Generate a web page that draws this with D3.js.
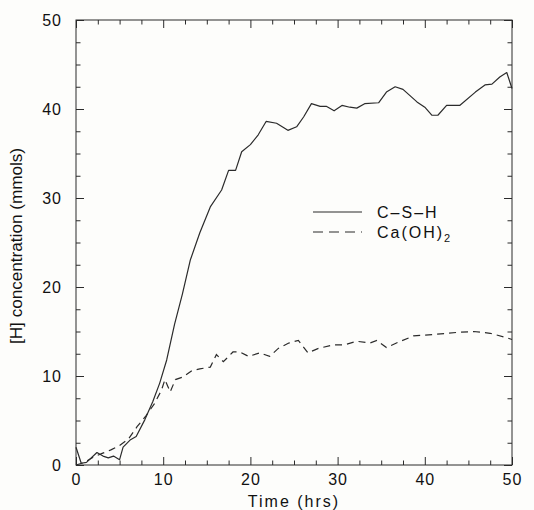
<!DOCTYPE html>
<html>
<head>
<meta charset="utf-8">
<script src="https://cdn.jsdelivr.net/npm/d3@7"></script>
<style>
  html, body { margin: 0; padding: 0; background: #fdfdfb; }
  svg { display: block; }
</style>
</head>
<body>
<div id="chart"></div>
<script>
// hydration data (time in hrs, [H] in mmols)
const cshTime = [0, 0.6, 1.2, 2.4, 3.1, 3.7, 4.3, 5.0, 5.4, 6.2, 6.9, 7.9, 8.8, 9.6, 10.4, 11.3, 12.2, 13.1, 14.2, 15.4,
  16.7, 17.5, 18.3, 19.0, 20.0, 20.9, 21.8, 23.0, 24.3, 25.3, 26.1, 27.0, 28.0, 28.7, 29.6, 30.5, 31.4, 32.2, 33.1,
  34.7, 35.6, 36.6, 37.5, 39.1, 40.0, 40.8, 41.5, 42.5, 44.0, 45.8, 46.9, 47.7, 48.6, 49.4, 50.0];
const cshValue = [2.0, 0.2, 0.3, 1.4, 1.0, 0.8, 1.0, 0.6, 2.0, 2.8, 3.2, 5.1, 7.1, 9.2, 11.8, 15.8, 19.2, 23.0, 26.1, 29.0,
  30.9, 33.1, 33.1, 35.2, 36.0, 37.1, 38.6, 38.4, 37.6, 38.0, 39.1, 40.6, 40.3, 40.3, 39.8, 40.4, 40.2, 40.1, 40.6,
  40.7, 41.9, 42.5, 42.2, 40.8, 40.2, 39.3, 39.3, 40.4, 40.4, 41.9, 42.7, 42.8, 43.6, 44.1, 42.3];

const caohTime = [0, 1.0, 2.0, 3.0, 4.0, 5.0, 6.0, 7.0, 8.0, 9.0, 9.8, 10.2, 10.8, 11.4, 12.3, 13.3, 14.2, 15.4, 16.1,
  16.9, 18.0, 18.8, 19.8, 21.1, 22.2, 23.2, 24.4, 25.5, 26.6, 27.8, 29.5, 30.8, 32.2, 33.7, 34.5, 35.6, 37.2, 38.7,
  41.4, 43.7, 45.6, 47.5, 49.4, 50.0];
const caohValue = [0, 0.3, 0.9, 1.3, 1.7, 2.2, 2.9, 4.3, 5.5, 6.9, 8.4, 9.6, 8.2, 9.6, 9.9, 10.6, 10.8, 11.0, 12.4,
  11.6, 12.7, 12.7, 12.2, 12.6, 12.2, 13.1, 13.7, 14.0, 12.6, 13.1, 13.5, 13.5, 13.9, 13.7, 14.0, 13.2, 13.9, 14.5,
  14.7, 14.9, 15.0, 14.8, 14.3, 14.1];

const seriesNames = ['C\u2013S\u2013H', 'Ca(OH)'];
const xTicks = [0, 10, 20, 30, 40, 50];
const yTicks = [0, 10, 20, 30, 40, 50];
const minorTicks = [2.5, 5, 7.5, 12.5, 15, 17.5, 22.5, 25, 27.5, 32.5, 35, 37.5, 42.5, 45, 47.5];

const attrs = {
  svgWidth: 534,
  svgHeight: 510,
  marginTop: 20,
  marginLeft: 76,
  marginRight: 22,
  marginBottom: 45,
  ink: '#2b2b2b',
  font: '"Liberation Sans", Arial, sans-serif'
};

const chartWidth = attrs.svgWidth - attrs.marginLeft - attrs.marginRight;
const chartHeight = attrs.svgHeight - attrs.marginTop - attrs.marginBottom;

const svg = d3.select('#chart').append('svg')
  .attr('width', attrs.svgWidth)
  .attr('height', attrs.svgHeight);

const chart = svg.append('g')
  .attr('transform', `translate(${attrs.marginLeft},${attrs.marginTop})`);

const xScale = d3.scaleLinear().domain([0, 50]).range([0, chartWidth]);
const yScale = d3.scaleLinear().domain([0, 50]).range([chartHeight, 0]);

// axes: ticks point inward on all four sides
function styleAxis(g) {
  g.select('.domain').remove();
  g.selectAll('.tick line').attr('stroke', attrs.ink).attr('stroke-width', 1);
  g.selectAll('text')
    .attr('fill', '#111')
    .attr('font-family', attrs.font)
    .attr('font-size', 16)
    .attr('letter-spacing', 1);
}

const axes = [
  { make: () => d3.axisBottom(xScale), t: `translate(0,${chartHeight})`, labels: true, isX: true },
  { make: () => d3.axisTop(xScale), t: 'translate(0,0)', labels: false, isX: true },
  { make: () => d3.axisLeft(yScale), t: 'translate(0,0)', labels: true, isX: false },
  { make: () => d3.axisRight(yScale), t: `translate(${chartWidth},0)`, labels: false, isX: false }
];

axes.forEach(a => {
  const major = a.make()
    .tickValues(a.isX ? xTicks : yTicks)
    .tickSize(-8)
    .tickPadding(a.isX ? 9 : 14)
    .tickFormat(a.labels ? d3.format('d') : '');
  const gMajor = chart.append('g').attr('transform', a.t).call(major);
  styleAxis(gMajor);

  const minor = a.make()
    .tickValues(minorTicks)
    .tickSize(-4.5)
    .tickFormat('');
  const gMinor = chart.append('g').attr('transform', a.t).call(minor);
  styleAxis(gMinor);
});

// frame
chart.append('rect')
  .attr('width', chartWidth)
  .attr('height', chartHeight)
  .attr('fill', 'none')
  .attr('stroke', attrs.ink)
  .attr('stroke-width', 1);

// series lines
const cshData = cshTime.map((t, i) => ({ x: t, y: cshValue[i] }));
const caohData = caohTime.map((t, i) => ({ x: t, y: caohValue[i] }));

const line = d3.line().x(d => xScale(d.x)).y(d => yScale(d.y));

chart.append('path')
  .datum(cshData)
  .attr('d', line)
  .attr('fill', 'none')
  .attr('stroke', attrs.ink)
  .attr('stroke-width', 1.2)
  .attr('stroke-linejoin', 'round');

chart.append('path')
  .datum(caohData)
  .attr('d', line)
  .attr('fill', 'none')
  .attr('stroke', attrs.ink)
  .attr('stroke-width', 1.2)
  .attr('stroke-dasharray', '7 5');

// legend
const legend = svg.append('g').attr('transform', 'translate(313,212)');
const rows = [
  { name: seriesNames[0], dash: null, sub: null },
  { name: seriesNames[1], dash: '10 6', sub: '2' }
];
const legendRows = legend.selectAll('g.row').data(rows).enter().append('g')
  .attr('class', 'row')
  .attr('transform', (d, i) => `translate(0,${i * 20})`);

legendRows.append('line')
  .attr('x1', 0).attr('x2', 49)
  .attr('stroke', attrs.ink)
  .attr('stroke-width', 1.2)
  .attr('stroke-dasharray', d => d.dash);

const legendText = legendRows.append('text')
  .attr('x', 64)
  .attr('dy', '0.36em')
  .attr('font-family', attrs.font)
  .attr('font-size', 16)
  .attr('letter-spacing', 2)
  .attr('fill', '#111')
  .text(d => d.name);

legendText.filter(d => d.sub)
  .append('tspan')
  .attr('font-size', 11)
  .attr('dy', 4)
  .text(d => d.sub);

// axis titles
svg.append('text')
  .attr('x', attrs.marginLeft + chartWidth / 2)
  .attr('y', 507)
  .attr('text-anchor', 'middle')
  .attr('font-family', attrs.font)
  .attr('font-size', 16)
  .attr('letter-spacing', 2)
  .attr('fill', '#111')
  .text('Time (hrs)');

svg.append('text')
  .attr('transform', 'translate(22,246) rotate(-90)')
  .attr('text-anchor', 'middle')
  .attr('font-family', '"Liberation Sans Narrow", "Liberation Sans", sans-serif')
  .attr('font-size', 16)
  .attr('textLength', 196)
  .attr('lengthAdjust', 'spacingAndGlyphs')
  .attr('fill', '#111')
  .text('[H] concentration (mmols)');
</script>
</body>
</html>
